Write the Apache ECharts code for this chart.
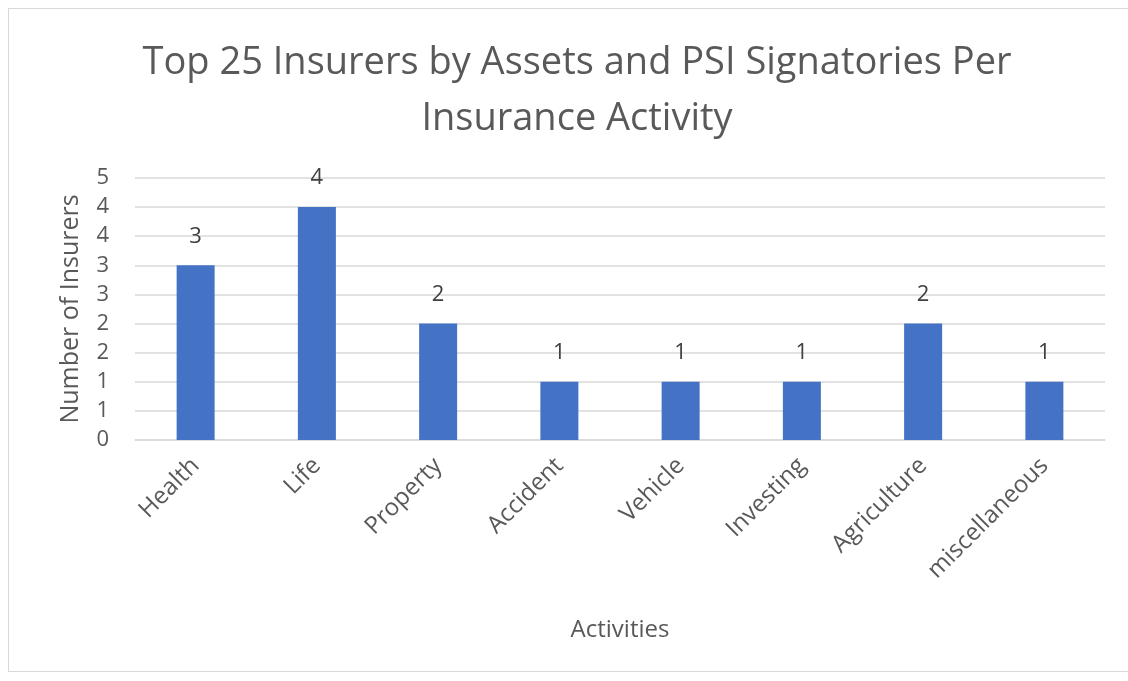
<!DOCTYPE html>
<html>
<head>
<meta charset="utf-8">
<title>Top 25 Insurers by Assets and PSI Signatories Per Insurance Activity</title>
<script src="https://cdn.jsdelivr.net/npm/echarts@6/dist/echarts.min.js"></script>
<style>
    html, body { margin: 0; padding: 0; background: #fff; }
    #frame {
        position: absolute; left: 8px; top: 8px; width: 1130px; height: 664px;
        border: 1px solid #d9d9d9; box-sizing: border-box;
    }
    #main { position: absolute; left: 0; top: 0; width: 1128px; height: 681px; }
</style>
</head>
<body>
<div id="frame"></div>
<div id="main"></div>
<script>
    var categories = ['Health', 'Life', 'Property', 'Accident', 'Vehicle', 'Investing', 'Agriculture', 'miscellaneous'];
    var insurers = [3, 4, 2, 1, 1, 1, 2, 1];

    var font = '"Open Sans", sans-serif';
    var grey = '#595959';

    var myChart = echarts.init(document.getElementById('main'));

    var option = {
        animation: false,
        title: {
            text: 'Top 25 Insurers by Assets and PSI Signatories Per\nInsurance Activity',
            left: 572,
            textAlign: 'center',
            top: 30,
            textStyle: {
                fontFamily: font,
                fontSize: 38,
                fontWeight: 'normal',
                color: grey,
                lineHeight: 56
            }
        },
        grid: {
            left: 135,
            right: 23,
            top: 178,
            bottom: 241
        },
        xAxis: {
            type: 'category',
            data: categories,
            name: 'Activities',
            nameLocation: 'middle',
            nameGap: 178,
            nameTextStyle: { fontFamily: font, fontSize: 24, color: grey },
            axisLine: { lineStyle: { color: '#d9d9d9', width: 1.5 } },
            axisTick: { show: false },
            axisLabel: {
                rotate: 45,
                margin: 22,
                fontFamily: font,
                fontSize: 24,
                color: grey
            }
        },
        yAxis: {
            type: 'value',
            min: 0,
            max: 4.5,
            interval: 0.5,
            name: 'Number of Insurers',
            nameLocation: 'middle',
            nameGap: 52,
            nameTextStyle: { fontFamily: font, fontSize: 25, color: grey },
            axisLine: { show: false },
            axisTick: { show: false },
            splitLine: { lineStyle: { color: '#d9d9d9', width: 1.5 } },
            axisLabel: {
                margin: 26,
                fontFamily: font,
                fontSize: 22,
                color: grey,
                // labels are shown rounded to whole numbers
                formatter: function (v) { return String(Math.floor(v + 0.5)); }
            }
        },
        series: [
            {
                name: 'Number of Insurers',
                type: 'bar',
                data: insurers,
                barWidth: 38,
                itemStyle: { color: '#4472c4' },
                label: {
                    show: true,
                    position: 'top',
                    distance: 18,
                    fontFamily: font,
                    fontSize: 22,
                    color: '#404040'
                }
            }
        ]
    };

    myChart.setOption(option);
</script>
</body>
</html>
